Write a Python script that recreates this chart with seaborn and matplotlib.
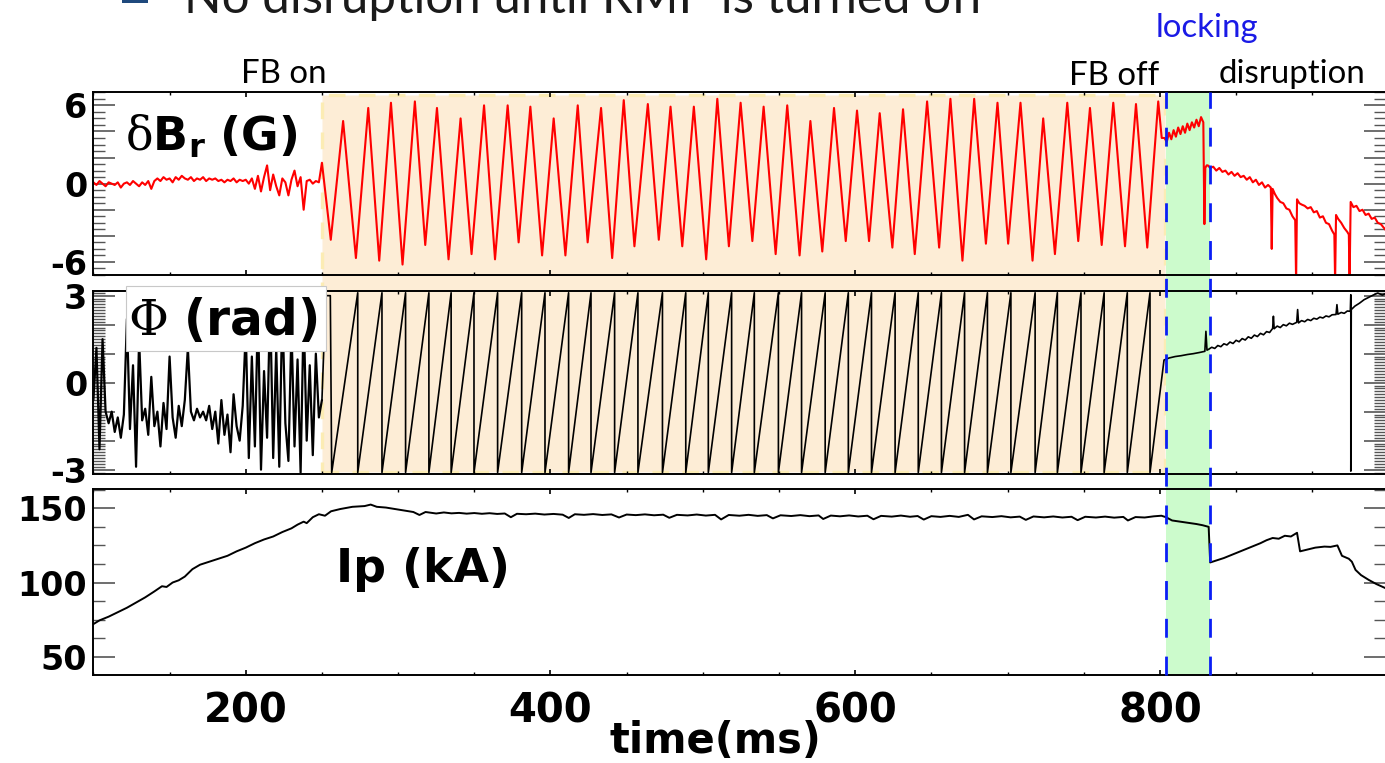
import matplotlib
matplotlib.use("Agg")
import matplotlib.pyplot as plt
import matplotlib.transforms as mtransforms
from matplotlib.patches import Rectangle
from matplotlib.lines import Line2D
from matplotlib.ticker import MultipleLocator, FuncFormatter
import numpy as np
import pandas as pd
import seaborn as sns

# ---- data (time in ms) ----
# dBr (G): quiet part before feedback, sampled every 2 ms from 100 to 250
br_quiet_t = np.arange(100, 251, 2)
br_quiet_v = [0.1, -0.1, 0.2, 0.0, -0.2, 0.1, 0.0, -0.1, 0.1, -0.3,
              0.0, 0.1, -0.1, 0.2, 0.0, -0.2, 0.1, -0.1, 0.2, -0.4,
              0.2, 0.4, 0.2, 0.5, 0.3, 0.4, 0.1, 0.5, 0.3, 0.6,
              0.4, 0.3, 0.5, 0.2, 0.4, 0.3, 0.5, 0.2, 0.4, 0.3,
              0.4, 0.2, 0.3, 0.1, 0.3, 0.2, 0.4, 0.1, 0.3, 0.2,
              0.3, 0.0, 0.4, -0.4, 0.6, -0.6, 0.5, 1.4, -0.5, 0.7,
              -0.2, -0.9, 0.4, 0.1, -0.9, 0.3, 1.0, -0.2, 0.5, -2.0,
              0.2, 0.3, 0.0, 0.2, 0.1, 1.6]
# troughs / peaks of the rotating mode while FB is on
br_osc_t = [255.8, 263.9, 272.3, 280.4, 287.6, 295.3, 302.9, 311.0, 317.8, 325.5,
            333.1, 341.0, 348.2, 356.4, 363.6, 371.9, 379.1, 386.8, 394.5, 402.1,
            409.8, 417.9, 424.4, 433.2, 440.5, 448.1, 455.1, 463.9, 471.1, 478.8,
            486.5, 494.1, 502.2, 509.5, 517.1, 524.8, 532.5, 539.9, 547.8, 555.4,
            563.5, 570.6, 578.4, 586.1, 593.8, 601.2, 609.1, 616.1, 624.4, 631.4,
            639.1, 647.2, 655.1, 662.5, 670.4, 678.1, 685.8, 693.4, 700.4, 708.5,
            716.4, 723.4, 731.1, 739.2, 746.4, 754.1, 761.8, 769.4, 777.1, 784.3,
            791.7, 798.9]
br_osc_v = [-4.3, 4.8, -5.7, 5.8, -5.9, 6.2, -6.2, 6.3, -4.7, 5.8,
            -5.8, 5.0, -5.4, 6.0, -5.8, 6.0, -4.5, 5.9, -5.5, 5.0,
            -5.5, 6.0, -4.5, 5.8, -5.7, 6.4, -4.8, 6.1, -4.3, 5.9,
            -4.8, 5.9, -5.8, 6.5, -4.8, 6.2, -4.4, 5.9, -5.4, 6.0,
            -5.5, 4.8, -5.2, 5.8, -4.4, 5.6, -4.4, 5.4, -4.9, 5.7,
            -5.4, 6.3, -4.9, 6.5, -5.9, 6.5, -4.6, 6.2, -4.6, 6.2,
            -5.9, 5.0, -5.4, 6.2, -4.4, 5.8, -4.7, 6.2, -4.8, 6.1,
            -4.9, 6.3]
# locked phase
br_lock_t = [801.2, 803.0, 804.5, 806.0, 807.5, 809.0, 810.5, 812.0, 813.5, 815.0, 816.5,
             818.0, 819.5, 821.0, 822.5, 824.0, 825.5, 827.0, 828.5, 829.2, 829.8, 830.7]
br_lock_v = [3.5, 3.5, 3.2, 3.9, 3.4, 4.1, 3.6, 4.3, 3.8, 4.4, 3.9,
             4.6, 4.1, 4.7, 4.3, 4.9, 4.4, 5.1, 4.7, -3.1, 1.2, 1.4]
# after FB off / disruption
br_post_t = [831.5, 833, 835, 837, 839, 841, 843, 845, 847, 849, 851, 853, 855, 857, 859,
             861, 863, 865, 867, 869, 871, 872.8, 873.4, 874.0, 875.5, 877, 879, 881, 883,
             885, 887, 888.8, 889.4, 890.0, 891.5, 893, 895, 897, 899, 901, 903, 905, 907,
             909, 911, 913, 914.5, 915.0, 915.6, 917, 919, 921, 923, 924.0, 924.5, 925.2,
             927, 929, 931, 933, 935, 937, 939, 941, 943, 945, 948.5]
br_post_v = [1.4, 1.2, 1.3, 1.0, 1.2, 0.9, 1.0, 0.7, 0.9, 0.6, 0.8, 0.5, 0.6, 0.3, 0.5,
             0.1, 0.3, -0.1, 0.1, -0.3, -0.1, -0.3, -5.0, -0.4, -0.8, -1.1, -1.4, -1.5, -1.9,
             -2.0, -2.5, -2.8, -7.5, -1.2, -1.5, -1.6, -1.7, -1.9, -1.8, -2.2, -2.1, -2.6, -2.5,
             -3.0, -3.1, -3.6, -3.9, -7.5, -2.4, -2.7, -3.0, -3.4, -3.7, -3.9, -7.5, -1.4,
             -1.8, -1.7, -2.1, -2.0, -2.4, -2.3, -2.7, -2.6, -3.0, -3.1, -3.6]

# Phi (rad): noisy phase before FB, sampled every 2 ms from 100 to 250
ph_noise_t = np.arange(100, 251, 2)
ph_noise_v = [-0.6, 1.2, -2.3, 1.5, -1.0, -1.4, -1.0, -1.7, -1.2, -1.9,
              -1.1, 2.2, -1.6, 0.6, -2.9, 1.5, -1.3, -0.9, -1.8, 0.2,
              -1.5, -1.0, -2.2, -0.7, -1.6, 0.9, -1.2, -1.9, -0.8, -1.5,
              -0.6, 1.2, -1.0, -1.3, -0.9, -1.2, -1.0, -1.3, -0.8, -1.6,
              -1.0, -2.1, -0.6, -1.8, -1.1, -2.4, -0.4, -1.5, -2.0, -0.8,
              1.8, -2.6, 0.9, -2.2, 2.5, -3.0, 0.4, -1.9, 2.8, -2.6,
              1.2, -2.9, 2.6, -1.4, -2.7, 1.9, -2.2, 0.8, -3.1, 2.4,
              -2.0, 0.6, -2.5, 1.0, -1.2, -0.6]
ph_start_t = [252.5, 255.5, 256.4]
ph_start_v = [3.0, 3.0, -3.1]
# times where the rotating phase wraps from +pi to -pi
ph_wrap_t = [273.5, 289.4, 304.9, 320.2, 334.8, 349.8, 365.3, 381.1, 396.4, 411.9,
             426.6, 442.1, 457.4, 473.5, 488.8, 503.6, 518.9, 533.8, 549.6, 564.8,
             580.3, 595.5, 610.7, 626.2, 641.4, 656.6, 671.8, 686.8, 702.2, 718.1,
             732.7, 748.2, 763.4, 778.6, 793.5]
ph_wrap_hi = 3.1
ph_wrap_lo = -3.1
ph_lock_t = [802.7, 806, 810, 814, 818, 822, 826, 829.5, 830.2, 830.9]
ph_lock_v = [0.78, 0.85, 0.90, 0.93, 0.97, 1.00, 1.04, 1.08, 1.77, 1.12]
ph_post_t = [832, 834, 836, 838, 840, 842, 844, 846, 848, 850, 852, 854, 856, 858, 860,
             862, 864, 866, 868, 870, 872, 874.0, 874.5, 875.0, 877, 879, 881, 883, 885,
             887, 889.8, 890.4, 891.0, 893, 895, 897, 899, 901, 903, 905, 907, 909, 911,
             913, 915.6, 916.2, 916.8, 919, 921, 923, 925.0, 925.3, 925.3, 925.6, 928, 931,
             934, 937, 940, 943, 946, 948.5]
ph_post_v = [1.15, 1.22, 1.18, 1.28, 1.24, 1.34, 1.30, 1.40, 1.35, 1.46, 1.41, 1.52, 1.47,
             1.58, 1.53, 1.64, 1.59, 1.70, 1.65, 1.76, 1.73, 1.87, 2.29, 1.86, 1.95, 1.90,
             2.00, 1.96, 2.05, 2.01, 2.08, 2.52, 2.06, 2.14, 2.10, 2.18, 2.14, 2.22, 2.19,
             2.26, 2.23, 2.30, 2.27, 2.34, 2.35, 2.69, 2.36, 2.42, 2.39, 2.47, 2.46, 3.03,
             -3.05, 2.52, 2.64, 2.74, 2.86, 2.94, 3.02, 3.09, 3.02, 3.08]

# Ip (kA)
ip_t = [100, 104, 110, 116, 122, 128, 134, 140, 145, 148, 152, 156, 160, 165, 170, 176,
        182, 188, 194, 200, 206, 212, 218, 224, 230, 234, 238, 240, 244, 248, 252, 256,
        262, 270, 278, 282, 286, 292, 298, 304, 310, 314, 318, 325,
        330, 335, 340, 345, 350, 355, 360, 365, 370, 374, 378, 384, 390, 396, 402, 408,
        412, 416, 422, 428, 434, 440, 445, 450, 456, 462, 468, 474, 478, 483, 490, 496,
        502, 508, 512, 517, 524, 530, 536, 542, 546, 551, 558, 564, 570, 576, 579, 584,
        590, 596, 602, 608, 612, 617, 624, 630, 636, 641, 645, 650, 656, 662, 668, 674,
        678, 683, 690, 696, 702, 708, 712, 717, 724, 730, 736, 742, 746, 751, 758, 764,
        770, 776, 779, 784, 790, 796, 801, 804,
        808, 812, 816, 820, 824, 828, 832, 833, 836, 842, 848, 854, 860, 866, 870, 874,
        878, 882, 886, 890, 892, 896, 902, 908, 912, 916.5, 919.5, 924, 926, 928.4, 932,
        937, 942, 948.5]
ip_v = [72, 74.5, 77, 80, 83, 86.5, 90, 94, 97.5, 97, 100, 101.5, 104, 109, 112, 114,
        116, 118, 121, 123.5, 126.5, 129, 131, 134, 136.5, 139, 141, 140, 144, 146, 145, 148,
        149.5, 151, 151.5, 152.5, 151, 150.5, 149.5, 148.5, 147.5, 145.5, 147.5, 146.5,
        147.2, 146.6, 146.9, 146.4, 146.8, 146.3, 146.7, 146.2, 146.5, 144.0, 146.3, 146.0,
        146.4, 145.8, 146.2, 145.7, 143.5, 146.0, 145.6, 146.1, 145.5, 145.9, 143.8, 145.8,
        145.4, 145.9, 145.3, 145.7, 143.6, 145.6, 145.2, 145.8, 145.1, 145.6, 142.5, 145.5,
        145.0, 145.6, 144.9, 145.4, 143.2, 145.3, 144.8, 145.4, 144.7, 145.2, 142.8, 145.1,
        144.6, 145.2, 144.5, 145.0, 142.6, 144.9, 144.4, 145.1, 144.3, 144.8, 142.4, 144.7,
        144.2, 144.9, 144.2, 145.6, 142.5, 144.6, 144.1, 144.7, 143.9, 144.4, 142.2, 144.5,
        143.9, 144.5, 143.8, 144.3, 142.0, 144.3, 143.8, 144.4, 143.7, 144.2, 141.8, 144.1,
        143.8, 144.6, 145.0, 144.0,
        141.8, 141.2, 140.6, 140.0, 139.4, 138.6, 137.5, 113.5, 114.5, 116.5, 119, 121.5,
        124, 126.5, 128.5, 130, 129.5, 131.5, 131, 133.5, 121, 122, 123.5, 124.2, 124, 125,
        118, 116, 114, 108.5, 105, 101.8, 99, 96]

fb_on, fb_off, lock_end = 250, 804, 833.2

# ---- build the series ----
br = pd.DataFrame({
    "t": list(br_quiet_t) + br_osc_t + br_lock_t + br_post_t,
    "v": br_quiet_v + br_osc_v + br_lock_v + br_post_v,
})
saw_t, saw_v = [], []
for w in ph_wrap_t:
    saw_t += [w, w]
    saw_v += [ph_wrap_hi, ph_wrap_lo]
ph_noise = pd.DataFrame({"t": list(ph_noise_t), "v": ph_noise_v})
ph = pd.DataFrame({
    "t": [ph_noise_t[-1]] + ph_start_t + saw_t + ph_lock_t + ph_post_t,
    "v": [ph_noise_v[-1]] + ph_start_v + saw_v + ph_lock_v + ph_post_v,
})
ip = pd.DataFrame({"t": ip_t, "v": ip_v})

# ---- figure ----
sns.set_theme(style="white")
plt.rcParams["font.family"] = ["DejaVu Sans"]
plt.rcParams["text.color"] = "black"
plt.rcParams["mathtext.fontset"] = "custom"
plt.rcParams["mathtext.rm"] = "DejaVu Serif"
plt.rcParams["mathtext.bf"] = "DejaVu Sans:bold"
plt.rcParams["mathtext.it"] = "DejaVu Serif:italic"

W, H = 1385, 763
fig = plt.figure(figsize=(W / 100, H / 100), dpi=100)
fig.patch.set_facecolor("white")


def fx(px):
    return px / W


def fy(py):
    return 1 - py / H


left, right = 93.4, 1386
ax_br = fig.add_axes([fx(left), fy(275), (right - left) / W, 182.7 / H])
ax_ph = fig.add_axes([fx(left), fy(474), (right - left) / W, 182.7 / H])
ax_ip = fig.add_axes([fx(left), fy(675), (right - left) / W, 186 / H])

sns.lineplot(data=br, x="t", y="v", ax=ax_br, color="#ff0000", lw=1.5, sort=False,
             estimator=None, solid_joinstyle="round")
sns.lineplot(data=ph_noise, x="t", y="v", ax=ax_ph, color="black", lw=1.6, sort=False,
             estimator=None)
sns.lineplot(data=ph, x="t", y="v", ax=ax_ph, color="black", lw=1.2, sort=False, estimator=None)
sns.lineplot(data=ip, x="t", y="v", ax=ax_ip, color="black", lw=1.4, sort=False, estimator=None)

ax_br.set_ylim(-7, 7)
ax_ph.set_ylim(-3.15, 3.15)
ax_ip.set_ylim(37.7, 163)


def only(vals):
    return FuncFormatter(lambda v, p: str(int(round(v))) if int(round(v)) in vals and abs(v - round(v)) < 1e-6 else "")


ycfg = [(ax_br, 2, 0.5, (-6, 0, 6)), (ax_ph, 1, 0.1, (-3, 0, 3)), (ax_ip, 50, 12.5, (50, 100, 150))]
for ax, maj, mnr, shown in ycfg:
    ax.set_facecolor("none")
    ax.set_xlim(100, 948.4)
    ax.set(xlabel="", ylabel="")
    ax.xaxis.set_major_locator(MultipleLocator(200))
    ax.xaxis.set_minor_locator(MultipleLocator(50))
    ax.yaxis.set_major_locator(MultipleLocator(maj))
    ax.yaxis.set_minor_locator(MultipleLocator(mnr))
    ax.yaxis.set_major_formatter(only(shown))
    for s in ax.spines.values():
        s.set_color("black")
        s.set_linewidth(1.4)
    ax.tick_params(which="both", direction="in", top=True, bottom=True, left=True, right=True,
                   labelcolor="black")
    ax.tick_params(axis="y", which="major", length=16, width=1.2, color="#555555",
                   labelsize=24, pad=4.5)
    ax.tick_params(axis="y", which="minor", length=8.5, width=1.0, color="#555555")
    ax.tick_params(axis="x", which="major", length=3.6, width=1.2, color="black",
                   labelsize=29, pad=12)
    ax.tick_params(axis="x", which="minor", length=2.2, width=1.0, color="black")
    for lab in ax.get_yticklabels() + ax.get_xticklabels():
        lab.set_fontweight("bold")
    ax.grid(False)

ax_br.tick_params(axis="x", labelbottom=False)
ax_ph.tick_params(axis="x", labelbottom=False)

# shaded periods spanning the panels
blend = mtransforms.blended_transform_factory(ax_br.transData, fig.transFigure)
fig.add_artist(Rectangle((fb_on, fy(472)), fb_off - 0.5 - fb_on, fy(94.5) - fy(472),
                         transform=blend, facecolor="#fdedd6", edgecolor="#fcecb4",
                         lw=2.4, linestyle=(0, (5, 4)), zorder=-2))
fig.add_artist(Rectangle((fb_off, fy(675)), lock_end - fb_off, fy(92.3) - fy(675),
                         transform=blend, facecolor="#ccfbcc", edgecolor="none", zorder=-1))
for xv in (fb_off, lock_end - 0.5):
    fig.add_artist(Line2D([xv, xv], [fy(675), fy(92)], transform=blend, color="#0a1ef5",
                          lw=2.0, linestyle=(0, (6.8, 6.8)), zorder=3))

# panel labels
fig.text(fx(125), fy(151.3), r"$\mathrm{\delta}\mathbf{B}_{\mathbf{r}}\ \mathbf{(G)}$",
         fontsize=33, va="baseline", ha="left")
fig.add_artist(Rectangle((fx(126), fy(351)), 200 / W, 65 / H, transform=fig.transFigure,
                         facecolor="white", edgecolor="#c8c8c8", lw=0.8, zorder=5))
fig.text(fx(128), fy(335), r"$\Phi\ \mathbf{(rad)}$", fontsize=35, va="baseline",
         ha="left", zorder=6)
fig.text(fx(336), fy(581.7), "Ip (kA)", fontsize=33, fontweight="bold", va="baseline")
fig.text(fx(609.5), fy(753), "time(ms)", fontsize=30, fontweight="bold", va="baseline")

# annotations
note = dict(family=["Lato", "DejaVu Sans"], fontsize=23.8, va="baseline", ha="center")
fig.text(fx(284.2), fy(82.7), "FB on", color="black", **note)
fig.text(fx(1114), fy(85), "FB off", color="black", **note)
fig.text(fx(1292), fy(83.3), "disruption", color="black", **note)
fig.text(fx(1206.8), fy(36.7), "locking", color="#1a1ae6", **note)

# header line cut off at the top of the slide
fig.add_artist(Rectangle((fx(121.7), fy(3.3)), (148.3 - 121.7) / W, 0.03,
                         transform=fig.transFigure, facecolor="#1f497d", edgecolor="none"))
fig.text(fx(184), fy(13), "No disruption until RMP is turned off", family=["Lato", "DejaVu Sans"],
         fontsize=35.5, color="#1a1a1a", va="baseline", ha="left")

fig.savefig("out.png", dpi=100)
